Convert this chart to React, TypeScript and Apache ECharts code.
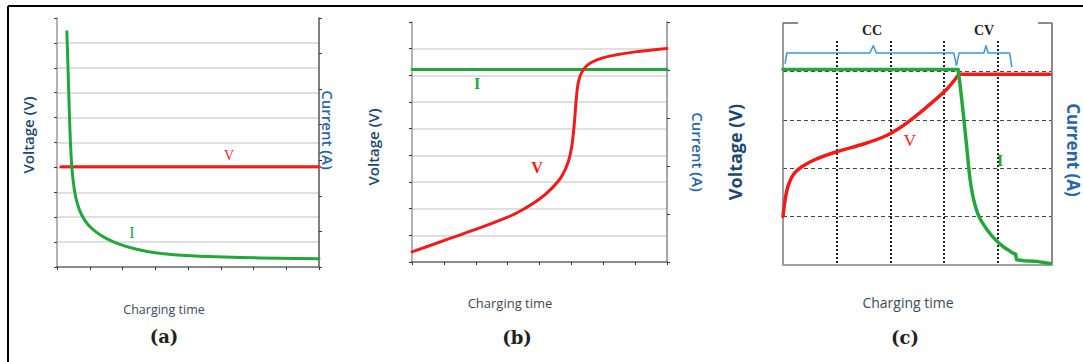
import React, { useEffect, useRef } from "react";
import * as echarts from "echarts";

// Panel (a): constant-voltage charging
const aVoltage = [[0.12, 4.03], [8, 4.03]];
const aCurrent = [
  [0.3, 9.45], [0.33, 8.3], [0.37, 6.5], [0.41, 5.0], [0.46, 3.9], [0.53, 3.1],
  [0.62, 2.55], [0.75, 2.1], [0.95, 1.7], [1.2, 1.4], [1.5, 1.15], [1.9, 0.92],
  [2.4, 0.72], [3.0, 0.57], [3.8, 0.47], [4.6, 0.42], [5.6, 0.38], [6.8, 0.35], [8.0, 0.33],
];
// Panel (b): constant-current charging
const bCurrent = [[0, 7.22], [8, 7.22]];
const bVoltage = [
  [0, 0.38], [1, 0.8], [2, 1.22], [3, 1.68], [3.5, 1.98], [4, 2.36], [4.4, 2.78],
  [4.7, 3.22], [4.9, 3.75], [5.02, 4.4], [5.1, 5.3], [5.16, 6.2], [5.22, 6.75],
  [5.32, 7.1], [5.5, 7.38], [5.8, 7.58], [6.2, 7.72], [7.0, 7.88], [8.0, 8.01],
];
// Panel (c): CC-CV charging
const cVoltageRise = [
  [0, 1.0], [0.04, 1.35], [0.1, 1.65], [0.2, 1.88], [0.35, 2.03], [0.6, 2.18],
  [1.0, 2.34], [1.5, 2.5], [1.9, 2.66], [2.2, 2.85], [2.5, 3.1], [2.8, 3.38],
  [3.05, 3.63], [3.27, 3.93],
];
const cVoltageFlat = [[3.27, 3.94], [4.97, 3.94]];
const cCurrentFlat = [[0, 4.04], [3.26, 4.04]];
const cCurrentDrop = [
  [3.26, 4.04], [3.3, 3.7], [3.36, 3.1], [3.42, 2.45], [3.48, 1.8], [3.55, 1.35],
  [3.65, 1.0], [3.8, 0.73], [3.95, 0.53], [4.1, 0.38], [4.25, 0.27], [4.33, 0.22],
];
const cCurrentTail = [[4.33, 0.22], [4.35, 0.11], [4.5, 0.09], [4.75, 0.07], [4.97, 0.03]];
const cBracketCC = [
  [0.04, 4.17], [0.07, 4.38], [1.62, 4.38], [1.68, 4.53], [1.74, 4.38], [3.18, 4.38], [3.23, 4.13],
];
const cBracketCV = [
  [3.23, 4.13], [3.28, 4.38], [3.74, 4.38], [3.78, 4.53], [3.82, 4.38], [4.22, 4.38], [4.26, 4.1],
];

const RED = "#f01c1c";
const GREEN = "#22a83a";
const BLUE = "#3a96dc";
const SANS = "'Open Sans', 'DejaVu Sans', sans-serif";
const SERIF = "'Liberation Serif', 'DejaVu Serif', serif";
const CAPSERIF = "'DejaVu Serif', 'Liberation Serif', serif";

function hidden() {
  return { show: false };
}

function txt(text: string, x: number, y: number, font: string, fill: string, rotation = 0) {
  return {
    type: "text",
    x,
    y,
    rotation,
    silent: true,
    style: {
      text,
      x: 0,
      y: 0,
      font,
      fill,
      align: "center",
      verticalAlign: "middle",
      textAlign: "center",
      textVerticalAlign: "middle",
    },
  };
}

function line(x1: number, y1: number, x2: number, y2: number, stroke: string, lineWidth: number) {
  return { type: "line", silent: true, shape: { x1, y1, x2, y2 }, style: { stroke, lineWidth } };
}

export default function App() {
  const ref = useRef<HTMLDivElement>(null);
  useEffect(() => {
    if (!ref.current) return;
    const chart = echarts.init(ref.current, null, { renderer: "svg" });
    const lineSeries = (x: number, data: number[][], color: string, width: number, smooth: number | false, z = 2) => ({
      type: "line",
      xAxisIndex: x,
      yAxisIndex: x * 2,
      data,
      symbol: "none",
      smooth,
      lineStyle: { color, width, cap: "round", join: "round" },
      z,
      silent: true,
    });
    const grayGrid = { show: true, showMinLine: false, showMaxLine: false, lineStyle: { color: "#d4d4d4", width: 1.5 } };
    const tick = { show: true, length: 3, lineStyle: { color: "#333", width: 1 } };
    const option: any = {
      animation: false,
      backgroundColor: "#fff",
      grid: [
        { left: 57, top: 18, width: 262, height: 249, outerBoundsMode: "none" },
        { left: 412, top: 22, width: 255, height: 240, outerBoundsMode: "none" },
        { left: 783, top: 23, width: 268.5, height: 242, outerBoundsMode: "none" },
        { left: 783, top: 41, width: 268.5, height: 224, outerBoundsMode: "none" },
      ],
      xAxis: [
        {
          gridIndex: 0, type: "value", min: 0, max: 8, interval: 1,
          axisLine: { show: true, onZero: false, lineStyle: { color: "#666", width: 1.5 } },
          axisTick: tick, axisLabel: hidden(), splitLine: hidden(),
        },
        {
          gridIndex: 1, type: "value", min: 0, max: 8, interval: 1,
          axisLine: { show: true, onZero: false, lineStyle: { color: "#666", width: 1.5 } },
          axisTick: tick, axisLabel: hidden(), splitLine: hidden(),
        },
        {
          gridIndex: 2, type: "value", min: 0, max: 5, interval: 1,
          axisLine: { show: true, onZero: false, lineStyle: { color: "#a0a0a0", width: 2 } },
          axisTick: hidden(), axisLabel: hidden(), splitLine: hidden(),
        },
        {
          gridIndex: 3, type: "value", min: 0, max: 5, interval: 1,
          axisLine: hidden(), axisTick: hidden(), axisLabel: hidden(),
          splitLine: { show: true, showMinLine: false, showMaxLine: false, lineStyle: { color: "#222", width: 2, type: [2, 2] } },
        },
      ],
      yAxis: [
        {
          gridIndex: 0, type: "value", min: 0, max: 10, interval: 1,
          axisLine: { show: true, lineStyle: { color: "#9a9a9a", width: 1.5 } },
          axisTick: tick, axisLabel: hidden(), splitLine: grayGrid,
        },
        {
          gridIndex: 0, type: "value", position: "right", min: 0, max: 7, interval: 1,
          axisLine: { show: true, lineStyle: { color: "#555", width: 1.5 } },
          axisTick: tick, axisLabel: hidden(), splitLine: hidden(),
        },
        {
          gridIndex: 1, type: "value", min: 0, max: 9, interval: 1,
          axisLine: { show: true, lineStyle: { color: "#9a9a9a", width: 1.5 } },
          axisTick: tick, axisLabel: hidden(), splitLine: grayGrid,
        },
        {
          gridIndex: 1, type: "value", position: "right", min: 0, max: 5, interval: 1,
          axisLine: { show: true, lineStyle: { color: "#888", width: 1.5 } },
          axisTick: tick, axisLabel: hidden(), splitLine: hidden(),
        },
        {
          gridIndex: 2, type: "value", min: 0, max: 5, interval: 1,
          axisLine: { show: true, lineStyle: { color: "#7a7a7a", width: 1.5 } },
          axisTick: hidden(), axisLabel: hidden(),
          splitLine: { show: true, showMinLine: false, showMaxLine: false, lineStyle: { color: "#444", width: 1, type: [4, 3] } },
        },
        {
          gridIndex: 2, type: "value", position: "right", min: 0, max: 5, interval: 1,
          axisLine: { show: true, lineStyle: { color: "#666", width: 1.5 } },
          axisTick: hidden(), axisLabel: hidden(), splitLine: hidden(),
        },
        {
          gridIndex: 3, type: "value", min: 0, max: 1,
          axisLine: hidden(), axisTick: hidden(), axisLabel: hidden(), splitLine: hidden(),
        },
      ],
      series: [
        lineSeries(0, aVoltage, RED, 3, false, 2),
        lineSeries(0, aCurrent, GREEN, 3, 0.3, 3),
        lineSeries(1, bCurrent, GREEN, 3, false, 2),
        lineSeries(1, bVoltage, RED, 3, 0.3, 3),
        lineSeries(2, cBracketCC, BLUE, 1.5, false, 2),
        lineSeries(2, cBracketCV, BLUE, 1.5, false, 2),
        lineSeries(2, cVoltageRise, RED, 3.5, 0.3, 3),
        lineSeries(2, cVoltageFlat, RED, 3.5, false, 3),
        lineSeries(2, cCurrentFlat, GREEN, 3.5, false, 4),
        lineSeries(2, cCurrentDrop, GREEN, 3.5, 0.3, 4),
        lineSeries(2, cCurrentTail, GREEN, 3.5, false, 4),
      ],
      graphic: [
        // outer frame
        line(8, 6, 1083, 6, "#000", 2),
        line(8, 6, 8, 362, "#000", 2),
        // panel (c) top corners
        line(783, 23, 798, 23, "#666", 1.5),
        line(1038, 23, 1051.5, 23, "#666", 1.5),
        // axis titles
        txt("Voltage (V)", 28, 135, `600 15px ${SANS}`, "#1d4670", Math.PI / 2),
        txt("Current (A)", 328, 130, `600 15px ${SANS}`, "#2a64a8", -Math.PI / 2),
        txt("Voltage (V)", 373, 147, `600 15px ${SANS}`, "#1d4670", Math.PI / 2),
        txt("Current (A)", 698, 152, `600 15px ${SANS}`, "#2a64a8", -Math.PI / 2),
        txt("Voltage (V)", 735, 152, `bold 18px ${SANS}`, "#1d4670", Math.PI / 2),
        txt("Current (A)", 1073, 150, `bold 17px ${SANS}`, "#2a64a8", -Math.PI / 2),
        // curve labels
        txt("V", 229, 155, `14px ${SERIF}`, RED),
        txt("I", 132, 232, `16px ${SERIF}`, GREEN),
        txt("I", 477, 83, `bold 16px ${SERIF}`, GREEN),
        txt("V", 537, 167, `bold 16px ${SERIF}`, RED),
        txt("V", 910, 140, `17px ${SERIF}`, RED),
        txt("I", 1000, 160, `bold 17px ${SERIF}`, GREEN),
        txt("CC", 872, 30, `bold 14px ${SERIF}`, "#222"),
        txt("CV", 984, 30, `bold 14px ${SERIF}`, "#222"),
        // x titles and captions
        txt("Charging time", 164, 309, `12.5px ${SANS}`, "#3b4a5a"),
        txt("Charging time", 510, 303, `13px ${SANS}`, "#3b4a5a"),
        txt("Charging time", 908, 302, `14px ${SANS}`, "#3b4a5a"),
        txt("(a)", 164, 336, `bold 18px ${CAPSERIF}`, "#222"),
        txt("(b)", 517, 337, `bold 18px ${CAPSERIF}`, "#222"),
        txt("(c)", 905, 337, `bold 18px ${CAPSERIF}`, "#222"),
      ],
    };
    chart.setOption(option);
    return () => chart.dispose();
  }, []);
  return (
    <div
      ref={ref}
      style={{ position: "fixed", left: 0, top: 0, width: 1083, height: 362, background: "#fff" }}
    />
  );
}
